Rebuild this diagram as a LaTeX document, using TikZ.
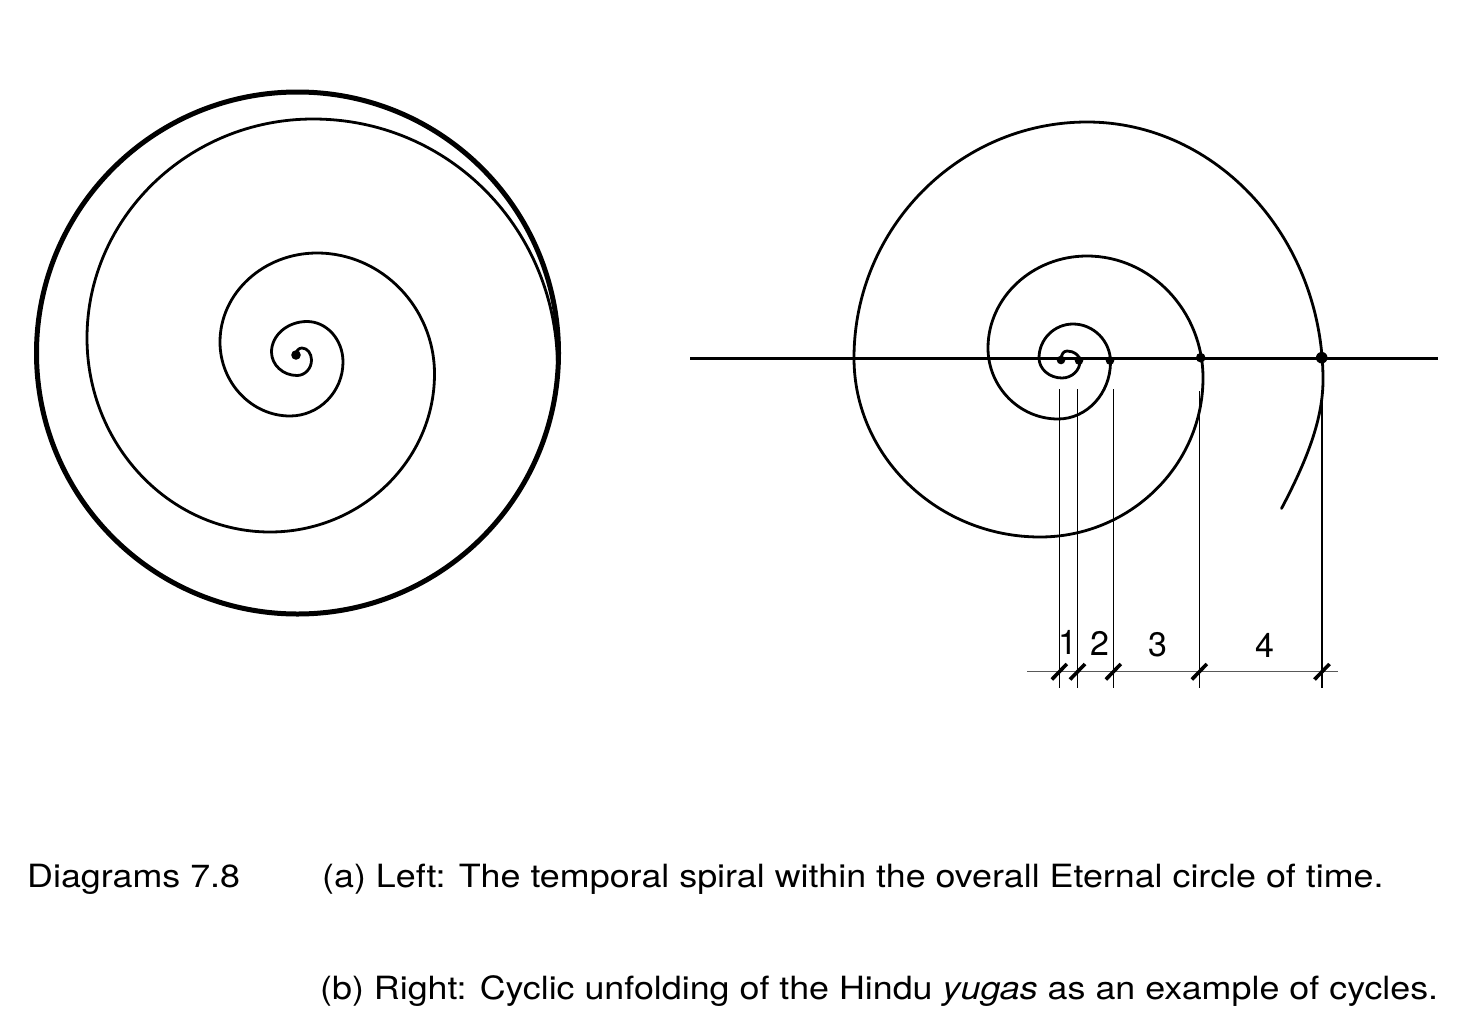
\documentclass[tikz,border=0pt]{standalone}
\usepackage{fontspec}
\setmainfont{TeX Gyre Heros}
\newfontfamily\capfont{TeX Gyre Heros}[FakeStretch=1.12]
\begin{document}
\begin{tikzpicture}[x=1pt,y=-1pt,
  spiralline/.style={line width=2.8pt,line cap=round,line join=round},
  ring/.style={line width=5pt},
  axisline/.style={line width=2.6pt},
  guide/.style={line width=1.2pt},
  scaleline/.style={line width=1pt,black!65},
  tickmark/.style={line width=3.6pt},
  num/.style={font=\fontsize{34}{40}\selectfont,inner sep=0pt,anchor=base},
  capt/.style={font=\capfont\fontsize{32}{38}\selectfont,inner sep=0pt,anchor=base west}]
\useasboundingbox (0,0) rectangle (1461,1009);

% ---- left: eternal circle with spiral ----
\draw[ring] (297.5,353) circle[radius=261];
\draw[spiralline] (296,355)
 .. controls +(0,-4) and +(-3.5,0) .. (302,348)
 .. controls +(5.2,0) and +(0,-6.6) .. (311.5,360)
 .. controls +(0,8.5) and +(8,0) .. (297,375.5)
 .. controls +(-14,0) and +(0,12.9) .. (271.5,352)
 .. controls +(0,-16.8) and +(-19.5,0) .. (307,321.5)
 .. controls +(19.8,0) and +(0,-22.3) .. (343,362)
 .. controls +(0,29.7) and +(29.2,0) .. (290,416)
 .. controls +(-38.5,0) and +(0,40.7) .. (220,342)
 .. controls +(0,-49) and +(-53.4,0) .. (317,253)
 .. controls +(64.6,0) and +(0,-66.6) .. (434.5,374)
 .. controls +(0,86.9) and +(90.5,0) .. (270,532)
 .. controls +(-100.7,0) and +(0,106.7) .. (87,338)
 .. controls +(0,-120.5) and +(-124.3,0) .. (313,119)
 .. controls +(137,0) and +(0,-138) .. (557.5,368);
\fill (296,355) circle[radius=4.8];

% ---- right: yuga spiral ----
\draw[axisline] (690,358.3) -- (1438,358.3);
\draw[spiralline] (1061,360)
 .. controls +(0,-5.5) and +(-3.5,0) .. (1067,351)
 .. controls +(7.2,0) and +(0,-5.5) .. (1080,361)
 .. controls +(0,9.4) and +(9.9,0) .. (1062,378)
 .. controls +(-12.7,0) and +(0,11) .. (1039,358)
 .. controls +(0,-18.7) and +(-18.7,0) .. (1073,324)
 .. controls +(20.6,0) and +(0,-20.9) .. (1110.5,362)
 .. controls +(0,31.4) and +(28.9,0) .. (1058,419)
 .. controls +(-38.5,0) and +(0,39) .. (988,348)
 .. controls +(0,-50.6) and +(-54.5,0) .. (1087,256)
 .. controls +(63.8,0) and +(0,-67.1) .. (1203,378)
 .. controls +(0,87.5) and +(89.7,0) .. (1040,537)
 .. controls +(-102.3,0) and +(0,98.5) .. (854,358)
 .. controls +(0,-129.8) and +(-128.2,0) .. (1087,122)
 .. controls +(129.8,0) and +(0,-141.9) .. (1323,380)
 .. controls (1323,420) and (1306,462) .. (1281.5,508.5);
\fill (1061,360) circle[radius=4.3];
\fill (1079,360.5) circle[radius=4.3];
\fill (1110,360.5) circle[radius=4.3];
\fill (1200.7,357.7) circle[radius=4.8];
\fill (1321.7,357.7) circle[radius=5.8];

% ---- scale ----
\draw[scaleline] (1027,671.5) -- (1338,671.5);
\foreach \xx/\yy in {1059.3/389,1077.5/389,1113.3/389,1199.3/391,1322/400}{
  \draw[guide] (\xx,\yy) -- (\xx,687.5);
  \draw[tickmark] (\xx-7.5,679.5) -- (\xx+7.5,664);
}
\node[num] (n1) at (1067.5,654) {1};
\node[num] (n2) at (1100,655) {2};
\node[num] (n3) at (1158,656) {3};
\node[num] (n4) at (1265,657) {4};

% ---- caption ----
\node[capt] (fig) at (27,887) {Diagrams 7.8};
\node[capt] (capa) at (322,887) {(a) Left: The temporal spiral within the overall Eternal circle of time.};
\node[capt] (capb) at (320,999) {(b) Right: Cyclic unfolding of the Hindu \textit{yugas} as an example of cycles.};
\end{tikzpicture}
\end{document}
